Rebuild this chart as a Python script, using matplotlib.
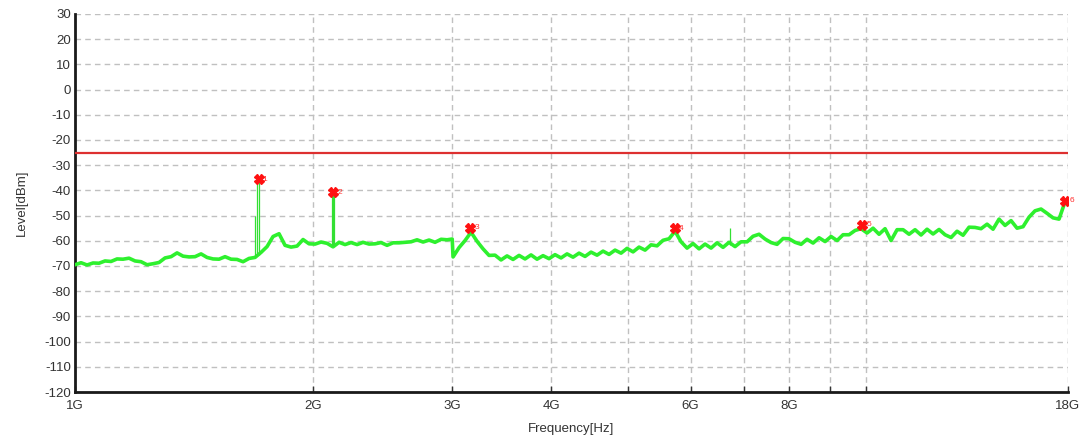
import numpy as np
import matplotlib
matplotlib.use("Agg")
import matplotlib.pyplot as plt
from matplotlib.ticker import FixedLocator, NullFormatter

plt.rcParams['font.family'] = ['Liberation Sans', 'DejaVu Sans']
plt.rcParams['axes.unicode_minus'] = False

# sweep frequencies in GHz
freq = [1.000, 1.0176, 1.0355, 1.0538, 1.0723, 1.0912, 1.1104, 1.1300, 1.1499, 1.1702,
        1.1909, 1.2119, 1.2332, 1.2550, 1.2771, 1.2996, 1.3225, 1.3458, 1.3695, 1.3937,
        1.4181, 1.4431, 1.4685, 1.4944, 1.5207, 1.5475, 1.5748, 1.6025, 1.6308, 1.6595,
        1.6887, 1.7185, 1.7488, 1.7796, 1.8109, 1.8428, 1.8753, 1.9083, 1.9420, 1.9762,
        2.0111, 2.0465, 2.0826, 2.1193, 2.1566, 2.1946, 2.2333, 2.2727, 2.3127, 2.3535,
        2.3949, 2.4371, 2.4801, 2.5238, 2.5682, 2.6135, 2.6595, 2.7064, 2.7541, 2.8026,
        2.8518, 2.9021, 2.9532, 2.998, 3.0053, 3.0582, 3.1121, 3.1669, 3.2227, 3.2795,
        3.3373, 3.3960, 3.4558, 3.5167, 3.5787, 3.6417, 3.7059, 3.7712, 3.8376, 3.9052,
        3.9740, 4.0441, 4.1153, 4.1879, 4.2616, 4.3367, 4.4131, 4.4909, 4.5700, 4.6505,
        4.7325, 4.8160, 4.9008, 4.9872, 5.0750, 5.1645, 5.2555, 5.3481, 5.4423, 5.5382,
        5.6358, 5.7351, 5.8362, 5.9390, 6.0437, 6.1502, 6.2585, 6.3688, 6.4810, 6.5952,
        6.7114, 6.8297, 6.9500, 7.0725, 7.1971, 7.3239, 7.4530, 7.5843, 7.7179, 7.8539,
        7.9923, 8.1331, 8.2764, 8.4223, 8.5707, 8.7217, 8.8754, 9.0318, 9.1909, 9.3529,
        9.5177, 9.6852, 9.8559, 10.030, 10.206, 10.386, 10.569, 10.755, 10.945, 11.138,
        11.334, 11.533, 11.736, 11.943, 12.154, 12.368, 12.586, 12.808, 13.033, 13.263,
        13.497, 13.734, 13.976, 14.223, 14.473, 14.728, 14.988, 15.252, 15.521, 15.794,
        16.073, 16.355, 16.643, 16.937, 17.235, 17.539, 17.848, 18.000]

level = [-69.5, -68.7, -69.6, -68.8, -68.9, -68.0, -68.2, -67.2, -67.3, -66.9,
         -68.0, -68.3, -69.5, -69.1, -68.6, -66.8, -66.3, -64.8, -66.1, -66.4,
         -66.3, -65.2, -66.6, -67.2, -67.3, -66.3, -67.3, -67.4, -68.3, -67.0,
         -66.6, -64.6, -62.3, -58.3, -57.2, -61.8, -62.5, -62.1, -59.5, -61.2,
         -61.3, -60.5, -61.0, -62.4, -60.6, -61.5, -60.7, -61.5, -60.6, -61.3,
         -61.2, -60.7, -61.8, -60.8, -60.8, -60.6, -60.4, -59.6, -60.5, -59.7,
         -60.6, -59.4, -59.6, -59.3, -66.4, -62.7, -59.9, -56.6, -60.2, -63.2,
         -65.8, -65.7, -67.6, -66.0, -67.4, -65.8, -67.2, -65.6, -67.3, -65.9,
         -67.1, -65.5, -66.8, -65.2, -66.5, -64.9, -66.2, -64.5, -65.7, -64.1,
         -65.4, -63.7, -64.9, -63.0, -64.4, -62.5, -63.7, -61.6, -62.0, -59.8,
         -59.2, -56.2, -60.4, -62.9, -61.1, -63.2, -61.3, -62.9, -60.8, -62.6,
         -60.6, -62.3, -60.4, -60.4, -58.2, -57.4, -59.3, -60.7, -61.4, -59.1,
         -59.2, -60.6, -61.4, -59.4, -60.9, -58.8, -60.3, -58.3, -59.9, -57.6,
         -57.6, -55.9, -55.2, -56.9, -55.0, -57.4, -55.2, -59.9, -55.6, -55.6,
         -57.4, -55.6, -57.7, -55.4, -57.3, -55.5, -57.6, -58.7, -56.2, -57.8,
         -54.6, -54.7, -55.2, -53.4, -55.4, -51.4, -53.9, -52.0, -55.0, -54.4,
         -50.6, -48.1, -47.4, -49.1, -50.9, -51.4, -44.5, -45.5]

# narrow spurs
spur_freq = [1.689, 1.700, 1.710, 2.113, 2.120, 2.128, 6.73]
spur_low = [-66.5, -66.0, -65.5, -62.0, -62.0, -61.5, -61.5]
spur_top = [-50.0, -36.0, -36.0, -42.0, -40.5, -42.0, -55.0]

# peak markers
mark_freq = [1.706, 2.120, 3.158, 5.735, 9.885, 17.85]
mark_level = [-35.5, -40.7, -54.8, -55.0, -53.7, -44.2]
mark_text = ['1', '2', '3', '4', '5', '6']

limit = -25

fig = plt.figure(figsize=(10.86, 4.41), dpi=100)
ax = fig.add_axes([0.0691, 0.1111, 0.9143, 0.8572])

ax.plot(freq, level, color='#2ef02e', lw=2.6, zorder=3)
ax.vlines(spur_freq, spur_low, spur_top, color='#33e033', lw=0.9, zorder=3)
ax.axhline(limit, color='#dd3030', lw=1.6, zorder=4)
ax.plot(mark_freq, mark_level, ls='none', marker='X', ms=7, color='#ff1010',
        mec='#ff1010', zorder=5)
for f, l, t in zip(mark_freq, mark_level, mark_text):
    ax.annotate(t, (f, l), xytext=(3, 0), textcoords='offset points',
                color='#ff3030', fontsize=6, va='center', ha='left', zorder=5)

ax.set_xscale('log')
ax.set_xlim(1.0, 18.0)
ax.set_ylim(-120, 30)

major = [1, 2, 3, 4, 6, 8, 18]
minor = [5, 7, 9, 10]
ax.xaxis.set_major_locator(FixedLocator(major))
ax.set_xticklabels([f'{m}G' for m in major])
ax.xaxis.set_minor_locator(FixedLocator(minor))
ax.xaxis.set_minor_formatter(NullFormatter())
ax.set_yticks(np.arange(-120, 31, 10))

ax.grid(True, which='both', axis='x', color='#c0c0c0', ls=(0, (4, 3)), lw=1.0)
ax.grid(True, which='major', axis='y', color='#c0c0c0', ls=(0, (4, 3)), lw=1.0)
ax.set_axisbelow(True)

ax.tick_params(axis='x', which='both', direction='in', length=4, width=1,
               colors='#333333', labelsize=9.5, pad=6)
ax.tick_params(axis='y', length=0, colors='#333333', labelsize=9.5, pad=3)
for side in ['top', 'right']:
    ax.spines[side].set_visible(False)
for side in ['left', 'bottom']:
    ax.spines[side].set_linewidth(2)
    ax.spines[side].set_color('#1a1a1a')

ax.set_xlabel('Frequency[Hz]', fontsize=9.5, color='#333333', labelpad=8)
ax.set_ylabel('Level[dBm]', fontsize=9.5, color='#333333', labelpad=12)

fig.savefig('out.png', dpi=100)
